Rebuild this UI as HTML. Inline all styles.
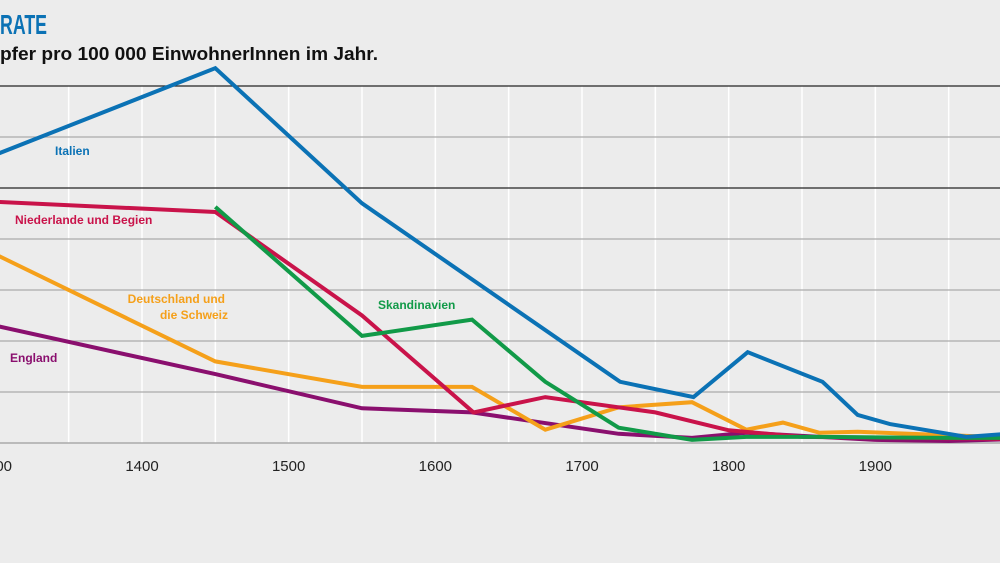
<!DOCTYPE html>
<html><head><meta charset="utf-8"><style>
body{margin:0;background:#ececec;}
svg{display:block;font-family:"Liberation Sans",sans-serif;}
</style></head><body>
<svg id="chart" width="1000" height="563" viewBox="0 0 1000 563">
<rect width="1000" height="563" fill="#ececec"/>
<text x="0" y="34" font-weight="bold" font-size="28" fill="#0b72b5" textLength="47" lengthAdjust="spacingAndGlyphs">RATE</text>
<text x="0" y="60" font-weight="bold" font-size="18" fill="#111" textLength="378" lengthAdjust="spacingAndGlyphs">pfer pro 100 000 EinwohnerInnen im Jahr.</text>
<g id="grid"></g><g id="lines"></g><g id="ticks"></g>
<text x="55" y="155" font-weight="bold" font-size="12" fill="#0b72b5">Italien</text>
<text x="15" y="224" font-weight="bold" font-size="12" fill="#c9134a">Niederlande und Begien</text>
<text x="225" y="303" text-anchor="end" font-weight="bold" font-size="12" fill="#f5a01a">Deutschland und</text>
<text x="228" y="319" text-anchor="end" font-weight="bold" font-size="12" fill="#f5a01a">die Schweiz</text>
<text x="378" y="309" font-weight="bold" font-size="12" fill="#119a48">Skandinavien</text>
<text x="10" y="362" font-weight="bold" font-size="12" fill="#8a0f6e">England</text>
</svg>
<script>
const xTicks=[1300,1400,1500,1600,1700,1800,1900,2000];
const yTicks=[0,1,2,3,4,5,6,7];
const italienYears=[1300,1450,1550,1726,1776,1813,1864,1888,1910,1962,2000];
const italienVals=[5.65,7.35,4.7,1.2,0.9,1.78,1.2,0.55,0.37,0.12,0.2];
const niederYears=[1300,1450,1550,1626,1675,1750,1800,1850,2000];
const niederVals=[4.73,4.53,2.5,0.6,0.9,0.6,0.25,0.12,0.08];
const skandYears=[1450,1550,1625,1675,1725,1775,1812,1862,1950,2000];
const skandVals=[4.63,2.1,2.42,1.2,0.3,0.06,0.12,0.12,0.1,0.1];
const deutschYears=[1300,1450,1550,1625,1675,1725,1775,1812,1837,1862,1888,2000];
const deutschVals=[3.7,1.6,1.1,1.1,0.26,0.7,0.8,0.26,0.4,0.2,0.22,0.1];
const englandYears=[1300,1450,1550,1625,1725,1775,1812,1850,1900,1950,2000];
const englandVals=[2.3,1.35,0.68,0.6,0.18,0.1,0.2,0.14,0.06,0.04,0.08];
const X=y=>142+(y-1400)*1.4667;
const Y=v=>443-v*51;
const NS="http://www.w3.org/2000/svg";
function mk(t,a,p){const e=document.createElementNS(NS,t);for(const k in a)e.setAttribute(k,a[k]);p.appendChild(e);return e;}
const grid=document.getElementById('grid'),lines=document.getElementById('lines'),ticks=document.getElementById('ticks');
for(let yr=1300;yr<=2000;yr+=50){
 const l=mk('line',{x1:X(yr),x2:X(yr),y1:86,y2:443,stroke:'#fff','stroke-width':1.5},grid);
 
 
}
yTicks.forEach(v=>{
 const black=(v===7||v===5);
 const l=mk('line',{x1:0,x2:1000,y1:Y(v),y2:Y(v),stroke:black?'#222':'#aaa','stroke-width':v===0?1.5:1.2},grid);
 
 
});
xTicks.forEach(t=>{
 const e=mk('text',{x:X(t),y:471,'text-anchor':'middle','font-size':15,fill:'#222'},ticks);
 e.textContent=t;
 
 
});
const series=[['line-england',englandYears,englandVals,'#8a0f6e'],['line-deutschland',deutschYears,deutschVals,'#f5a01a'],['line-niederlande',niederYears,niederVals,'#c9134a'],['line-skandinavien',skandYears,skandVals,'#119a48'],['line-italien',italienYears,italienVals,'#0b72b5']];
series.forEach(s=>{
 const pts=s[1].map((yr,i)=>X(yr).toFixed(1)+','+Y(s[2][i]).toFixed(1)).join(' ');
 const p=mk('polyline',{points:pts,fill:'none',stroke:s[3],'stroke-width':4,'stroke-linejoin':'miter'},lines);
 
 
});
</script>
</body></html>
